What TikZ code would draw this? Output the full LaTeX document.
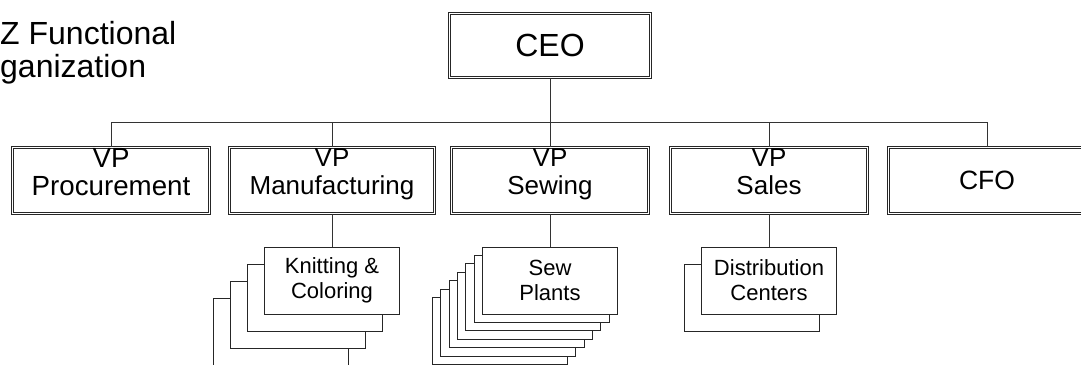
\documentclass[tikz,border=0pt]{standalone}
\usepackage{fontspec}
\setmainfont{Liberation Sans}
\usetikzlibrary{positioning}
\tikzstyle{topbox}=[draw=black!85, line width=0.8pt, double=white, double distance=1.6pt, inner sep=0pt, align=center]
\tikzstyle{vpbox}=[topbox, minimum width=196.8pt, minimum height=65.8pt, font=\fontsize{26}{28}\selectfont]
\tikzstyle{unitbox}=[draw=black!85, line width=0.8pt, fill=white, minimum width=135pt, minimum height=67pt, inner sep=0pt, align=center, font=\fontsize{22}{25}\selectfont]
\tikzstyle{orgline}=[draw=black!80, line width=0.8pt]
\newcommand{\vpline}[1]{VP\\#1\rule[-17pt]{0pt}{0pt}}

\begin{document}
\begin{tikzpicture}[x=1pt, y=-1pt]
    \useasboundingbox (0,0) rectangle (1081,364);

    % title
    \node[anchor=north west, inner sep=0pt, align=left, font=\fontsize{32}{33}\selectfont] (title) at (0,21) {Z Functional\\ganization};

    % top
    \node[topbox, minimum width=200.8pt, minimum height=63.8pt, font=\fontsize{32}{34}\selectfont] (ceo) at (550,45.5) {CEO};
    \coordinate (bus) at (550,122);

    % vice presidents
    \node[vpbox, font=\fontsize{27.7}{28}\selectfont] (vp1) at (111,180.5) {\vpline{Procurement}};
    \node[vpbox, minimum width=204.8pt] (vp2) at (332,180.5) {\vpline{Manufacturing}};
    \node[vpbox] (vp3) at (550,180.5) {\vpline{Sewing}};
    \node[vpbox] (vp4) at (769,180.5) {\vpline{Sales}};
    \node[vpbox, font=\fontsize{26.5}{28}\selectfont] (cfo) at (987,180.5) {CFO};

    % plants
    \foreach \k in {3,2,1}
        \node[unitbox] (knit\k) at (332-17*\k, 280.5+17*\k) {};
    \node[unitbox] (knit0) at (332,280.5) {Knitting \&\\Coloring};
    \foreach \k in {6,5,4,3,2,1}
        \node[unitbox] (sew\k) at (550-8.4*\k, 280.5+8.4*\k) {};
    \node[unitbox] (sew0) at (550,280.5) {Sew\\Plants};
    \node[unitbox] (dist1) at (752,297.5) {};
    \node[unitbox] (dist0) at (769,280.5) {Distribution\\Centers};

    % lines
    \draw[orgline] (ceo.south) -- (bus);
    \foreach \n in {vp1,vp2,vp3,vp4,cfo}
        \draw[orgline] (\n.north) |- (bus);
    \draw[orgline] (vp2.south) -- (knit0.north);
    \draw[orgline] (vp3.south) -- (sew0.north);
    \draw[orgline] (vp4.south) -- (dist0.north);

\end{tikzpicture}
\end{document}
